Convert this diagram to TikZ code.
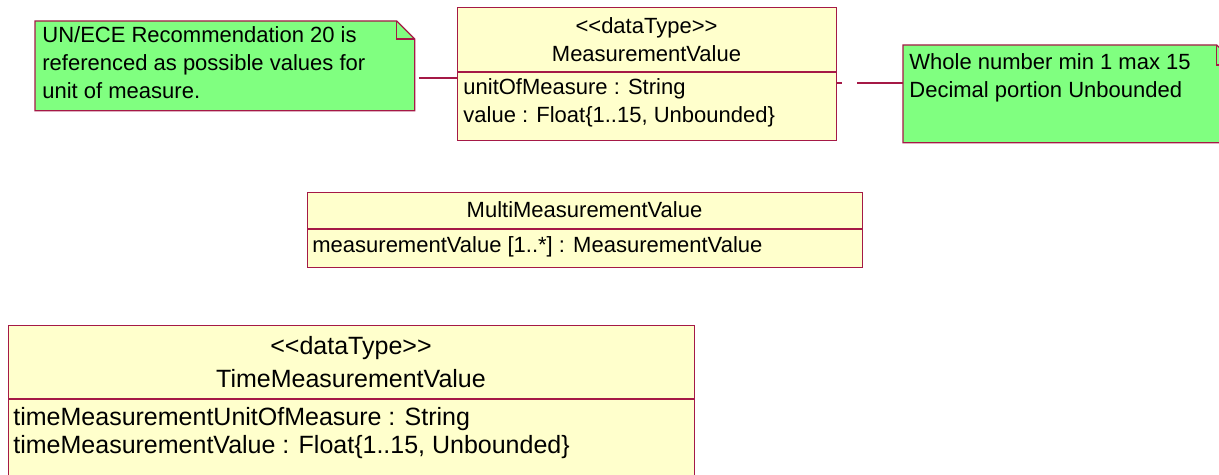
\documentclass[tikz,border=0pt]{standalone}
\usepackage{fontspec}
\setmainfont{Liberation Sans}
\usetikzlibrary{calc}
\definecolor{roseline}{RGB}{165,25,70}
\definecolor{notegreen}{RGB}{128,255,128}
\definecolor{classyellow}{RGB}{255,255,204}
\tikzset{
	classbox/.style={draw=roseline, fill=classyellow, anchor=north west, inner sep=0pt, line width=0.6pt},
	notebox/.style={anchor=north west, inner sep=0pt},
	txt/.style={inner sep=0pt, font=\fontsize{11}{13}\selectfont},
	bigtxt/.style={inner sep=0pt, font=\fontsize{12.5}{15}\selectfont},
	link/.style={draw=roseline, line width=0.6pt},
}
\newcommand{\dogear}[2]{%
	\draw[draw=roseline, fill=notegreen, line width=0.6pt] (#1.south west) -- (#1.north west) -- ($(#1.north east)+(-#2,0)$) -- ($(#1.north east)+(0,#2)$) -- (#1.south east) -- cycle;
	\draw[draw=roseline, line width=0.6pt] ($(#1.north east)+(-#2,0)$) |- ($(#1.north east)+(0,#2)$);
}
\begin{document}
\begin{tikzpicture}[x=0.5pt, y=-0.5pt]
	\useasboundingbox (0,0) rectangle (1219,475);
	\clip (0,0) rectangle (1219,475);
	
	\node[notebox, minimum width=189.5pt, minimum height=44.5pt] (unNote) at (35,21) {};
	\dogear{unNote}{18}
	\node[txt, anchor=base west] (unLineA) at (42,43) {UN/ECE Recommendation 20 is};
	\node[txt, anchor=base west] (unLineB) at (42,71) {referenced as possible values for};
	\node[txt, anchor=base west] (unLineC) at (42,99) {unit of measure.};
	
	\node[classbox, minimum width=189.5pt, minimum height=66.5pt] (mv) at (457,7) {};
	\draw[link] (mv.west |- 0,72) -- (mv.east |- 0,72);
	\node[txt, anchor=base] (mvStereo) at (646.5,34) {<{}<dataType>{}>};
	\node[txt, anchor=base] (mvName) at (646.5,62) {MeasurementValue};
	\node[txt, anchor=base west] (mvUnit) at (463,95) {unitOfMeasure : String};
	\node[txt, anchor=base west] (mvValue) at (463,123) {value : Float\{1..15, Unbounded\}};
	
	\node[notebox, minimum width=166.5pt, minimum height=48.5pt] (floatNote) at (903,45) {};
	\dogear{floatNote}{20}
	\node[txt, anchor=base west] (floatLineA) at (909,70) {Whole number min 1 max 15};
	\node[txt, anchor=base west] (floatLineB) at (909,98) {Decimal portion Unbounded};
	
	\draw[link] ($(unNote.east |- 0,78)+(4,0)$) -- (mv.west |- 0,78);
	\draw[link, dash pattern=on 2.5pt off 7.5pt on 40pt] (mv.east |- 0,83) -- (floatNote.west |- 0,83);
	
	\node[classbox, minimum width=277.5pt, minimum height=37.5pt] (mmv) at (307,192) {};
	\draw[link] (mmv.west |- 0,229) -- (mmv.east |- 0,229);
	\node[txt, anchor=base] (mmvName) at (584.5,218) {MultiMeasurementValue};
	\node[txt, anchor=base west] (mmvAttr) at (312,253) {measurementValue [1..*] : MeasurementValue};
	
	\node[classbox, minimum width=343pt, minimum height=100pt] (tmv) at (8,325) {};
	\draw[link] (tmv.west |- 0,399) -- (tmv.east |- 0,399);
	\node[bigtxt, anchor=base] (tmvStereo) at (351,355) {<{}<dataType>{}>};
	\node[bigtxt, anchor=base] (tmvName) at (351,387) {TimeMeasurementValue};
	\node[bigtxt, anchor=base west] (tmvUnit) at (13,425) {timeMeasurementUnitOfMeasure : String};
	\node[bigtxt, anchor=base west] (tmvValue) at (13,453) {timeMeasurementValue : Float\{1..15, Unbounded\}};
\end{tikzpicture}
\end{document}
